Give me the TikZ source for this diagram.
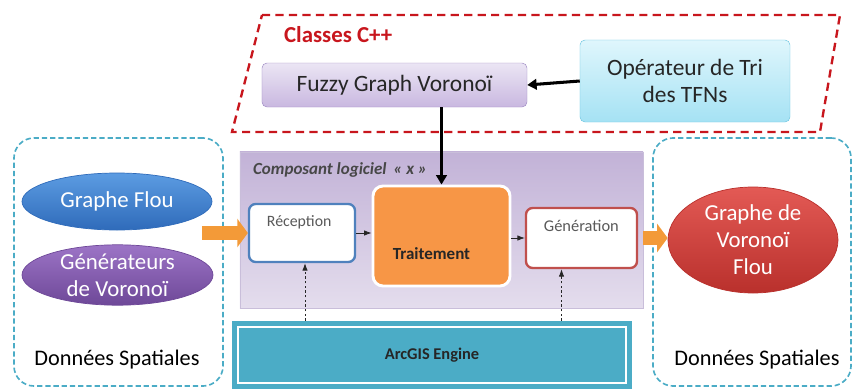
\documentclass[tikz,border=0pt]{standalone}
\usepackage{fontspec}
\setmainfont{Carlito}
\usetikzlibrary{arrows.meta,calc,positioning,shapes.geometric}
\definecolor{CppRed}{HTML}{C8161D}
\definecolor{Teal}{HTML}{4BACC6}
\definecolor{Ink}{HTML}{262626}
\definecolor{Slate}{HTML}{595959}
\definecolor{Orange}{HTML}{F79646}
\definecolor{Arrow}{HTML}{F39A38}
\definecolor{RecBlue}{HTML}{4F81BD}
\definecolor{GenRed}{HTML}{C0504D}
\definecolor{LavTop}{HTML}{EBE5F4}
\definecolor{LavBot}{HTML}{C9B8E0}
\definecolor{LavLine}{HTML}{9C88C2}
\definecolor{SkyTop}{HTML}{DFF6FC}
\definecolor{SkyBot}{HTML}{A5E2F4}
\definecolor{SkyLine}{HTML}{6CC5E0}
\definecolor{PanelTop}{HTML}{C2B2D7}
\definecolor{PanelBot}{HTML}{E4DDED}
\definecolor{PanelLine}{HTML}{C9BEDA}
\definecolor{FlouTop}{HTML}{5C9CE2}
\definecolor{FlouBot}{HTML}{2F6BBA}
\definecolor{GenTop}{HTML}{9C74C6}
\definecolor{GenBot}{HTML}{6E4898}
\definecolor{VorTop}{HTML}{E35A55}
\definecolor{VorBot}{HTML}{B9302C}
\tikzset{
  classbox/.style={rounded corners=1.5mm,inner sep=0pt,align=center,text=Ink,
    font=\fontsize{20}{23}\selectfont},
  dataell/.style={ellipse,inner sep=0pt,align=center,text=white,line width=0.6pt,
    font=\fontsize{19.5}{23}\selectfont},
  group/.style={rounded corners=6mm,draw=Teal,dashed,dash pattern=on 4.5pt off 2.5pt,
    line width=1.4pt,inner sep=0pt,minimum width=#1},
  subbox/.style={rounded corners=2mm,fill=white,line width=2pt,inner sep=0pt},
  spatial/.style={text=black,font=\fontsize{19}{22}\selectfont},
  bigarrow/.style={-{Triangle[length=9pt,width=24pt]},line width=12pt,draw=Arrow},
  blackflow/.style={-{Triangle[length=8pt,width=9pt]},line width=2.6pt,draw=black},
  thinflow/.style={-{Latex[length=2.2mm,width=1.6mm]},line width=0.6pt,draw=Ink},
  dotflow/.style={-{Latex[length=2.2mm,width=1.6mm]},line width=0.7pt,draw=Ink,
    dash pattern=on 2pt off 2pt},
}
\begin{document}
\begin{tikzpicture}[x=0.03cm,y=-0.03cm]
    \useasboundingbox (0,0) rectangle (855,389);

    % classes C++
    \draw[CppRed,line width=2pt,dash pattern=on 7pt off 4.5pt]
      (262,15) -- (840,15) -- (820,132) -- (232,132) -- cycle;
    \node[anchor=west,text=CppRed,font=\fontsize{19.5}{23}\selectfont\bfseries] (cpp) at (280,35) {Classes C++};
    \node[classbox,draw=LavLine,top color=LavTop,bottom color=LavBot,
      minimum width=7.95cm,minimum height=1.32cm] (fuzzy) at (394.5,85) {Fuzzy Graph Voronoï};
    \node[classbox,draw=SkyLine,top color=SkyTop,bottom color=SkyBot,
      minimum width=6.3cm,minimum height=2.46cm] (tri) at (685,81) {Opérateur de Tri\\des TFNs};

    % entrees / sorties
    \node[group=6.27cm,minimum height=7.44cm] (inbox) at (118.5,262) {};
    \node[group=5.94cm,minimum height=7.44cm] (outbox) at (752,262) {};
    \node[dataell,draw=FlouBot,top color=FlouTop,bottom color=FlouBot,
      minimum width=5.7cm,minimum height=1.71cm] (flou) at (117,201.5) {Graphe Flou};
    \node[dataell,draw=GenBot,top color=GenTop,bottom color=GenBot,
      minimum width=5.73cm,minimum height=1.8cm] (gener) at (117.5,275) {Générateurs\\de Voronoï};
    \node[dataell,draw=VorBot,top color=VorTop,bottom color=VorBot,
      minimum width=5.1cm,minimum height=3.18cm] (vor) at (753,240) {Graphe de\\Voronoï\\Flou};
    \node[spatial] (dsin) at (117,360) {Données Spatiales};
    \node[spatial] (dsout) at (757,360) {Données Spatiales};

    % composant logiciel
    \node[draw=PanelLine,top color=PanelTop,bottom color=PanelBot,inner sep=0pt,
      minimum width=12.09cm,minimum height=4.68cm] (panel) at (441.5,230) {};
    \node[anchor=west,text=Ink!85,font=\fontsize{14.5}{17}\selectfont\bfseries\itshape] (comp) at (249,170)
      {Composant logiciel \,« x »};
    \node[subbox,draw=RecBlue,minimum width=3.18cm,minimum height=1.74cm,
      label={[anchor=north west,xshift=0.45cm,yshift=-0.25cm,text=Slate,font=\fontsize{13.5}{16}\selectfont]north west:Réception}]
      (rec) at (302,233) {};
    \node[rounded corners=3mm,fill=Orange,draw=white,line width=2.5pt,inner sep=0pt,
      minimum width=4.11cm,minimum height=3cm,
      label={[xshift=-0.3cm,yshift=-0.54cm,text=Ink,font=\fontsize{14.5}{17}\selectfont\bfseries]center:Traitement}]
      (trait) at (441.5,236) {};
    \node[subbox,draw=GenRed,minimum width=3.33cm,minimum height=1.8cm,
      label={[anchor=north west,xshift=0.45cm,yshift=-0.27cm,text=Slate,font=\fontsize{14}{16}\selectfont]north west:Génération}]
      (gen) at (581.5,238) {};

    % ArcGIS
    \node[fill=Teal,inner sep=0pt,minimum width=12cm,minimum height=2.04cm,
      text=Ink,font=\fontsize{14}{17}\selectfont\bfseries,
      path picture={\draw[white,line width=1.6pt]
        ($(path picture bounding box.south west)+(0.17cm,0.17cm)$) rectangle
        ($(path picture bounding box.north east)-(0.17cm,0.17cm)$);}]
      (arc) at (432,355) {ArcGIS Engine};

    % liens
    \draw[blackflow] (tri.west) -- (fuzzy.east);
    \draw[blackflow] (trait.north |- fuzzy.south) -- (trait.north);
    \draw[thinflow] (rec.east) -- (rec.east -| trait.west);
    \draw[thinflow] (gen.west -| trait.east) -- (gen.west);
    \draw[dotflow] ([xshift=0.09cm]rec.south |- arc.north) -- ([xshift=0.09cm]rec.south);
    \draw[dotflow] ([xshift=-0.6cm]gen.south |- arc.north) -- ([xshift=-0.6cm]gen.south);
    \draw[bigarrow] ($(rec.west -| inbox.east)+(-22,0)$) -- (rec.west);
    \draw[bigarrow] ([xshift=0.15cm]gen.east) -- (gen.east -| vor.west);
  \end{tikzpicture}
\end{document}
